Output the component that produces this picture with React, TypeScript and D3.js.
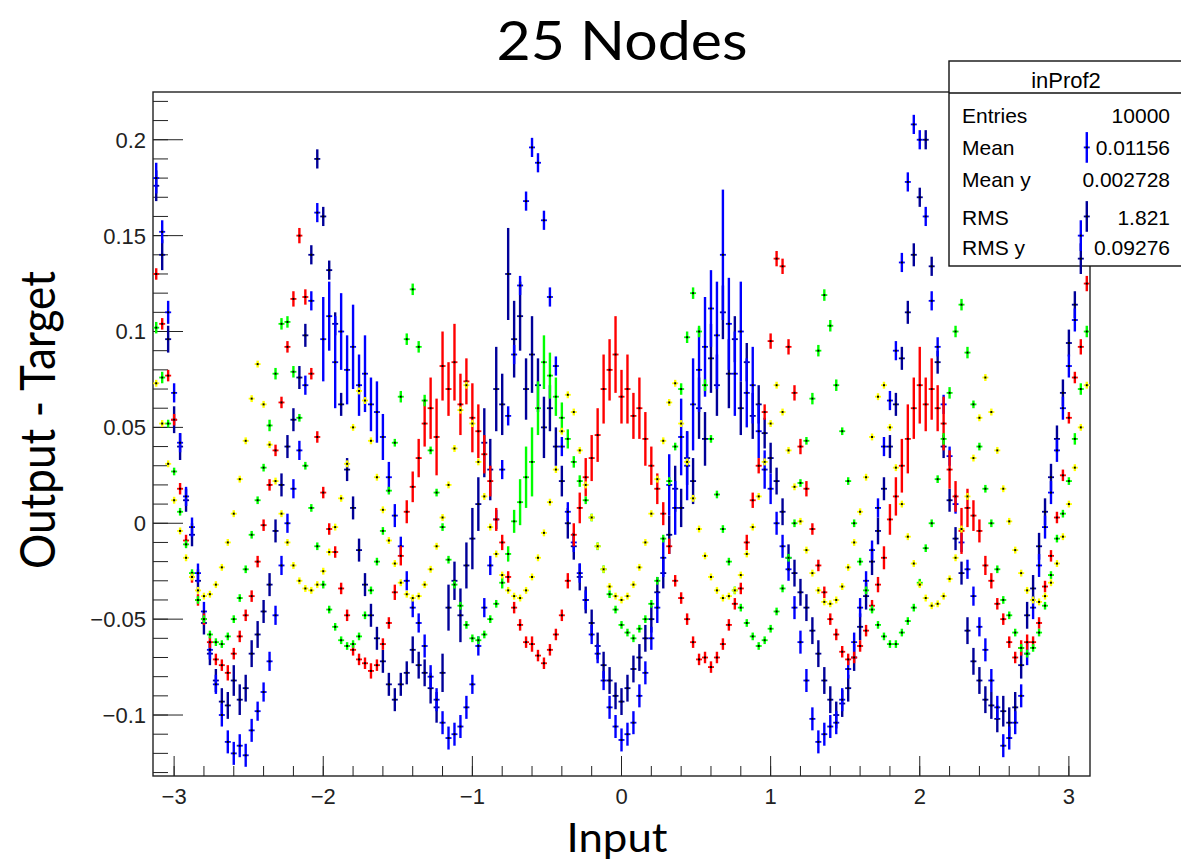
import React from 'react'
import * as d3 from 'd3'

// bin centres of the profiles (-3.12 .. 3.12, step 0.04)
const bins = d3.range(157).map(i => -3.12 + 0.04 * i)

// profile means, in units of 0.001
const yellow = [
  73, 52, 31, 12, -4, -18, -28, -35, -38, -37,
  -32, -23, -10, 5, 23, 43, 65, 83, 62, 41,
  22, 5, -10, -22, -30, -34, -35, -32, -25, -15,
  -2, 13, 31, 50, 69, 64, 43, 24, 7, -9,
  -21, -31, -37, -39, -38, -32, -24, -12, 3, 20,
  39, 59, 72, 52, 32, 14, -2, -16, -27, -35,
  -38, -39, -35, -28, -18, -5, 11, 28, 48, 67,
  58, 38, 20, 3, -12, -24, -33, -38, -40, -38,
  -32, -23, -10, 5, 23, 43, 63, 73, 52, 32,
  13, -3, -17, -28, -35, -39, -38, -35, -27, -16,
  -2, 14, 32, 52, 72, 58, 38, 19, 1, -14,
  -26, -35, -41, -42, -40, -33, -23, -10, 6, 24,
  45, 66, 72, 50, 29, 10, -7, -21, -32, -39,
  -43, -42, -38, -29, -18, -3, 14, 34, 55, 76,
  58, 38, 18, 1, -14, -26, -35, -40, -41, -38,
  -31, -21, -7, 10, 29, 50, 72,
]
const yellowErr = 1.8

const green = [
  102, 76, 52, 27, 6, -11, -26, -40, -50, -58,
  -62, -63, -59, -50, -39, -24, -6, 12, 29, 51,
  78, 104, 105, 79, 55, 30, 8, -12, -32, -45,
  -54, -61, -64, -63, -59, -48, -35, -20, -4, 17,
  42, 66, 96, 122, 92, 64, 38, 16, -2, -19,
  -32, -43, -53, -60, -61, -58, -50, -42, -31, -16,
  1, 11, 24, 32, 60, 84, 77, 66, 55, 44,
  32, 22, 12, 3, -12, -24, -37, -45, -53, -57,
  -60, -55, -50, -42, -30, -8, 22, 40, 70, 97,
  120, 100, 72, 44, 15, -3, -20, -35, -44, -52,
  -59, -64, -61, -55, -46, -34, -18, 0, 21, 43,
  65, 90, 119, 103, 72, 48, 22, 0, -20, -35,
  -45, -53, -59, -63, -63, -57, -51, -44, -31, -13,
  0, 23, 44, 68, 100, 114, 89, 62, 40, 18,
  0, -24, -40, -48, -57, -65, -68, -65, -57, -43,
  -27, -8, 5, 22, 44, 70, 100,
]
const greenErr = [
  3, 3, 2, 2, 2, 2, 2, 2, 2, 2,
  2, 2, 2, 2, 2, 2, 2, 2, 2, 3,
  3, 3, 3, 3, 2, 2, 2, 2, 2, 2,
  2, 2, 2, 2, 2, 2, 2, 2, 2, 2,
  2, 3, 3, 3, 3, 3, 2, 2, 2, 2,
  2, 2, 2, 2, 2, 2, 2, 2, 3, 4,
  6, 12, 16, 18, 14, 14, 12, 10, 8, 5,
  3, 3, 2, 2, 2, 2, 2, 2, 2, 2,
  2, 2, 2, 2, 2, 2, 2, 2, 3, 3,
  3, 3, 3, 2, 2, 2, 2, 2, 2, 2,
  2, 2, 2, 2, 2, 2, 2, 2, 2, 2,
  3, 3, 3, 3, 3, 2, 2, 2, 2, 2,
  2, 2, 2, 2, 2, 2, 2, 2, 2, 2,
  2, 2, 3, 3, 3, 3, 3, 2, 2, 2,
  2, 2, 2, 2, 2, 2, 2, 2, 2, 2,
  2, 2, 2, 2, 3, 3, 3,
]

const red = [
  130, 104, 77, 54, 18, -9, -28, -40, -50, -62,
  -71, -74, -78, -68, -59, -48, -38, -20, -1, 20,
  38, 63, 92, 117, 150, 118, 78, 45, 16, -3,
  -15, -34, -48, -66, -71, -73, -77, -74, -63, -52,
  -36, -17, 6, 19, 34, 52, 60, 45, 82, 70,
  84, 62, 74, 55, 48, 36, 22, 2, -10, -28,
  -44, -53, -62, -63, -69, -73, -66, -58, -48, -30,
  -6, 8, 24, 34, 46, 70, 80, 88, 66, 70,
  56, 60, 44, 30, 18, 5, -12, -30, -39, -50,
  -62, -71, -70, -75, -70, -63, -53, -42, -34, -10,
  12, 30, 58, 95, 138, 134, 92, 68, 40, 18,
  -3, -22, -36, -50, -58, -67, -71, -70, -64, -56,
  -43, -32, -18, 2, 14, 30, 44, 60, 72, 62,
  70, 60, 52, 28, 14, -4, 8, 4, -4, -22,
  -30, -42, -50, -62, -70, -65, -62, -62, -52, -33,
  -17, 3, 25, 55, 76, 92, 125,
]
const redErr = [
  3, 3, 3, 3, 3, 3, 3, 3, 3, 3,
  3, 3, 4, 3, 3, 3, 3, 3, 3, 3,
  3, 3, 3, 4, 4, 4, 3, 3, 3, 3,
  3, 3, 3, 3, 3, 3, 4, 3, 3, 3,
  4, 5, 6, 8, 10, 12, 16, 20, 18, 14,
  20, 16, 12, 18, 14, 10, 8, 6, 4, 3,
  3, 3, 3, 4, 3, 3, 3, 3, 3, 4,
  6, 8, 10, 12, 14, 18, 16, 20, 14, 18,
  12, 16, 14, 10, 8, 6, 4, 3, 3, 3,
  3, 3, 3, 3, 3, 3, 3, 3, 3, 4,
  4, 4, 4, 4, 4, 4, 4, 4, 4, 4,
  3, 3, 3, 3, 3, 3, 3, 3, 3, 3,
  3, 4, 6, 8, 10, 14, 18, 16, 20, 14,
  16, 12, 14, 10, 8, 12, 10, 8, 6, 5,
  4, 3, 3, 3, 3, 4, 4, 3, 3, 3,
  3, 3, 3, 3, 3, 4, 4,
]

const blue = [
  180, 152, 110, 68, 42, 14, -2, -26, -46, -66,
  -84, -100, -114, -120, -116, -121, -108, -98, -88, -72,
  -48, -22, 0, 18, 38, 72, 116, 162, 96, 108,
  84, 100, 80, 92, 72, 78, 62, 58, 45, 24,
  4, -12, -30, -44, -52, -64, -80, -92, -104, -112,
  -110, -106, -96, -84, -64, -44, -22, 2, 28, 56,
  88, 124, 168, 196, 188, 158, 118, 82, 40, 6,
  -10, -26, -40, -58, -68, -82, -96, -106, -113, -110,
  -104, -90, -78, -60, -44, -18, 20, 8, 45, 30,
  62, 80, 92, 112, 98, 140, 104, 78, 100, 68,
  72, 48, 28, 18, 0, -12, -24, -44, -62, -82,
  -102, -114, -110, -106, -104, -92, -76, -62, -44, -30,
  -14, 8, 40, 64, 90, 136, 178, 208, 200, 160,
  116, 92, 62, 35, 10, -10, -24, -38, -54, -66,
  -82, -96, -116, -112, -104, -90, -68, -44, -22, -2,
  16, 38, 60, 82, 106, 150, 196,
]
const blueErr = [
  8, 6, 6, 5, 5, 5, 5, 5, 5, 5,
  5, 6, 6, 6, 6, 6, 6, 5, 5, 5,
  5, 5, 5, 5, 5, 5, 5, 5, 22, 18,
  24, 20, 18, 22, 16, 20, 14, 16, 12, 8,
  6, 5, 5, 5, 5, 6, 6, 6, 6, 6,
  6, 6, 6, 5, 5, 5, 5, 5, 5, 5,
  5, 5, 5, 5, 5, 5, 5, 5, 5, 5,
  5, 5, 5, 5, 5, 5, 6, 6, 6, 6,
  6, 6, 6, 6, 8, 10, 16, 14, 20, 18,
  24, 22, 26, 20, 28, 34, 24, 22, 26, 18,
  20, 14, 10, 8, 6, 6, 6, 6, 6, 6,
  6, 6, 6, 6, 6, 6, 5, 5, 5, 5,
  5, 5, 5, 5, 5, 5, 5, 5, 5, 5,
  5, 5, 5, 5, 5, 5, 5, 5, 5, 6,
  6, 6, 6, 6, 6, 6, 6, 6, 6, 6,
  6, 6, 6, 6, 6, 8, 8,
]

const navy = [
  176, 140, 96, 54, 40, 12, -6, -30, -52, -68,
  -82, -93, -95, -82, -92, -86, -68, -58, -46, -32,
  -4, 20, 40, 54, 76, 98, 140, 190, 160, 132,
  104, 62, 28, 8, -14, -32, -48, -60, -72, -84,
  -92, -84, -78, -66, -74, -78, -86, -96, -78, -44,
  -30, -48, -22, -8, 10, 42, 28, 70, 62, 130,
  96, 108, 70, 88, 72, 50, 60, 40, 22, 0,
  -12, -28, -40, -52, -64, -74, -82, -90, -93, -86,
  -76, -70, -60, -50, -36, -26, -6, 18, 8, 34,
  22, 60, 44, 86, 72, 110, 78, 96, 60, 84,
  56, 62, 47, 34, 22, 6, -18, -26, -36, -44,
  -56, -68, -82, -92, -100, -94, -86, -70, -54, -38,
  -20, -4, 18, 40, 62, 86, 110, 140, 170, 200,
  134, 84, 40, 12, -8, -26, -56, -72, -82, -92,
  -95, -102, -98, -104, -96, -74, -48, -34, -12, 6,
  24, 44, 68, 94, 114, 138, 160,
]
const navyErr = [
  8, 8, 7, 7, 7, 6, 6, 6, 6, 6,
  6, 7, 7, 8, 8, 7, 7, 7, 6, 6,
  6, 6, 6, 6, 6, 6, 5, 5, 5, 5,
  6, 6, 6, 6, 6, 6, 6, 6, 6, 6,
  6, 6, 6, 7, 7, 7, 8, 8, 10, 12,
  10, 14, 12, 16, 14, 18, 16, 22, 16, 24,
  20, 18, 16, 20, 14, 16, 12, 10, 8, 8,
  7, 7, 7, 7, 7, 7, 7, 7, 7, 7,
  7, 7, 7, 7, 8, 8, 10, 12, 10, 14,
  12, 16, 14, 18, 16, 14, 18, 12, 14, 10,
  12, 10, 8, 8, 7, 7, 7, 7, 7, 7,
  7, 7, 7, 7, 7, 7, 7, 7, 7, 7,
  7, 7, 6, 6, 6, 6, 6, 6, 5, 5,
  5, 6, 6, 6, 6, 6, 7, 7, 7, 7,
  7, 7, 8, 8, 8, 7, 7, 7, 7, 7,
  7, 7, 7, 7, 7, 8, 8,
]

// drawn in this order (last on top)
const series = [
  { name: 'navy', color: '#000099', values: navy, err: navyErr },
  { name: 'blue', color: '#0000ff', values: blue, err: blueErr },
  { name: 'red', color: '#ff0000', values: red, err: redErr },
  { name: 'green', color: '#00ff00', values: green, err: greenErr },
  { name: 'yellow', color: '#ffff00', values: yellow, err: yellow.map(() => yellowErr) },
]

const xMajor = [-3, -2, -1, 0, 1, 2, 3]
const xLabels = ['\u22123', '\u22122', '\u22121', '0', '1', '2', '3']
const yMajor = [-0.1, -0.05, 0, 0.05, 0.1, 0.15, 0.2]
const yLabels = ['\u22120.1', '\u22120.05', '0', '0.05', '0.1', '0.15', '0.2']

const stats = [
  ['Entries', '10000'],
  ['Mean', '0.01156'],
  ['Mean y', '0.002728'],
  ['RMS', '1.821'],
  ['RMS y', '0.09276'],
]

const L = 153, R = 1090, T = 92, B = 776

export default function App() {
  const x = d3.scaleLinear().domain([-Math.PI, Math.PI]).range([L, R])
  const y = d3.scaleLinear().domain([-0.1318, 0.2249]).range([B, T])

  const xMinor = d3.range(-15, 16).map(v => v * 0.2)
  const yMinor = d3.range(-13, 23).map(v => v / 100).filter(v => y(v) <= B && y(v) >= T)

  const tickFont = '"Liberation Sans", Arial, Helvetica, sans-serif'
  const titleFont = 'Lato, "Open Sans", sans-serif'
  const statRows = [123, 155, 187, 225, 255]

  return (
    <div style={{ position: 'absolute', left: 0, top: 0 }}>
      <svg width={1181} height={861} style={{ display: 'block', background: '#fff' }}>
        <defs>
          <clipPath id="plot">
            <rect x={L} y={T} width={R - L} height={B - T} />
          </clipPath>
        </defs>

        <text x={622} y={60} textAnchor="middle" fontFamily={titleFont} fontSize={55}
          textLength={251} lengthAdjust="spacingAndGlyphs">25 Nodes</text>

        {/* frame */}
        <rect x={L} y={T} width={R - L} height={B - T} fill="none" stroke="#222" strokeWidth={1.4} />

        {/* y ticks */}
        {yMinor.map(v => (
          <line key={'ym' + v} x1={L} x2={L + 15} y1={y(v)} y2={y(v)} stroke="#222" strokeWidth={1} />
        ))}
        {yMajor.map((v, i) => (
          <g key={'yM' + v}>
            <line x1={L} x2={L + 30} y1={y(v)} y2={y(v)} stroke="#222" strokeWidth={1} />
            <text x={146} y={y(v)} dy="0.36em" textAnchor="end" fontFamily={tickFont} fontSize={22} fill="#222">
              {yLabels[i]}
            </text>
          </g>
        ))}

        {/* x ticks */}
        {xMinor.map(v => (
          <line key={'xm' + v} x1={x(v)} x2={x(v)} y1={B} y2={B - 10} stroke="#222" strokeWidth={1} />
        ))}
        {xMajor.map((v, i) => (
          <g key={'xM' + v}>
            <line x1={x(v)} x2={x(v)} y1={B} y2={B - 20} stroke="#222" strokeWidth={1} />
            <text x={x(v)} y={804} textAnchor="middle" fontFamily={tickFont} fontSize={22} fill="#222">
              {xLabels[i]}
            </text>
          </g>
        ))}

        <text x={617} y={852} textAnchor="middle" fontFamily={titleFont} fontSize={41}
          textLength={101} lengthAdjust="spacingAndGlyphs">Input</text>
        <text transform="translate(55,420) rotate(-90)" textAnchor="middle" fontFamily={titleFont} fontSize={48}
          textLength={298} lengthAdjust="spacingAndGlyphs">Output - Target</text>

        {/* stats box */}
        <g fontFamily={tickFont}>
          <rect x={949} y={61} width={240} height={205} fill="#fff" stroke="#111" strokeWidth={1.4} />
          <line x1={949} x2={1181} y1={93} y2={93} stroke="#111" strokeWidth={1.4} />
          <text x={1066} y={88} textAnchor="middle" fontSize={22}>inProf2</text>
          {stats.map((s, i) => (
            <g key={s[0]}>
              <text x={962} y={statRows[i]} fontSize={21}>{s[0]}</text>
              <text x={1170} y={statRows[i]} fontSize={21} textAnchor="end">{s[1]}</text>
            </g>
          ))}
        </g>

        {/* profiles */}
        <g clipPath="url(#plot)">
          {series.map(s => (
            <g key={s.name}>
              {s.values.map((v, i) => {
                const cx = x(bins[i])
                const e = s.err[i] ?? 3
                const cy = y(v / 1000)
                return (
                  <g key={i}>
                    <line x1={cx} x2={cx} y1={y((v - e) / 1000)} y2={y((v + e) / 1000)}
                      stroke={s.color} strokeWidth={2.4} />
                    <line x1={cx - 3} x2={cx + 3} y1={cy} y2={cy} stroke={s.color} strokeWidth={1.8} />
                    <rect x={cx - 1} y={cy - 1} width={2} height={2} fill="#000" />
                  </g>
                )
              })}
            </g>
          ))}
        </g>
      </svg>
    </div>
  )
}
